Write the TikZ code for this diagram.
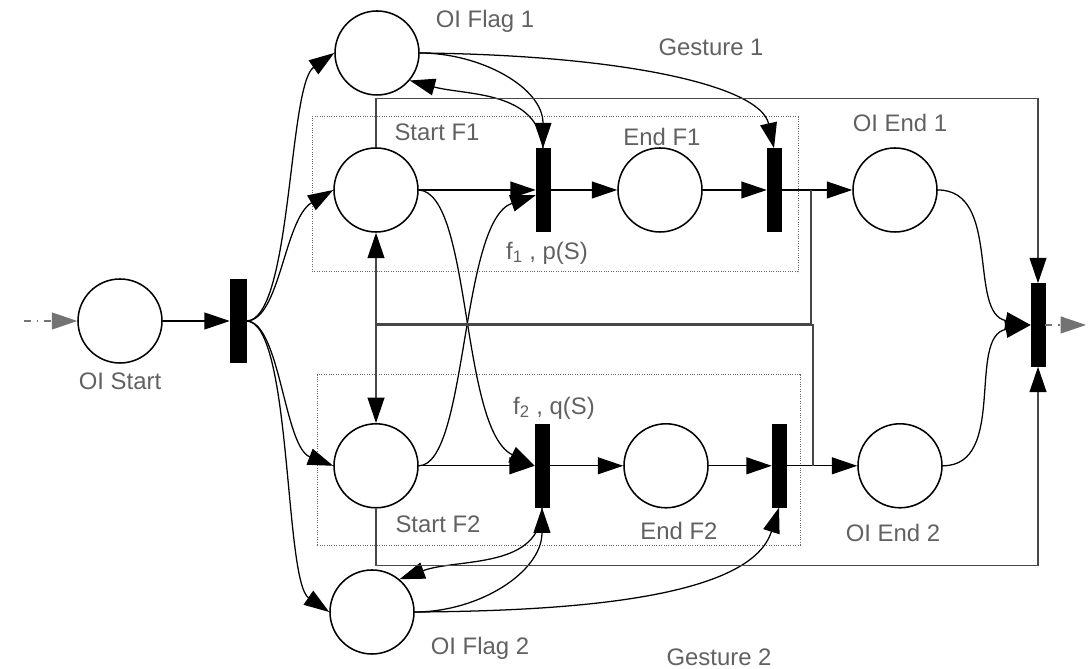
\documentclass[tikz,border=0pt]{standalone}
\usepackage{fontspec}
\setmainfont{Liberation Sans}
\usetikzlibrary{arrows.meta}

\begin{document}
\begin{tikzpicture}[
      place/.style={draw, circle, line width=1.1pt, minimum size=2.1cm, inner sep=0pt},
      trans/.style={draw, fill=black, rectangle, minimum width=0.35cm,
                    minimum height=2.075cm, inner sep=0pt},
      arr/.style={-{Triangle[length=18pt, width=12pt]}, line width=0.9pt},
      frame/.style={-{Triangle[length=18pt, width=12pt, color=black]}, line width=0.9pt, draw=black!72},
      flow/.style={arr, draw=black!55, dash pattern=on 5pt off 4pt on 1.2pt off 4pt},
      group/.style={draw=black!60, densely dotted, line width=0.7pt},
      lbl/.style={font=\fontsize{17}{20}\selectfont, text=black!62, inner sep=0pt}
    ]
    \useasboundingbox (0,0) rectangle (27.225,16.725);

    \draw[group] (7.8,9.925) rectangle (19.95,13.8);
    \draw[group] (7.925,3.1) rectangle (20.0,7.35);

    \node[place] (start) at (3.0,8.7)     {};
    \node[trans, minimum width=0.4cm] (tS) at (5.95,8.7) {};
    \node[place] (flag1) at (9.425,15.4)  {};
    \node[place] (sF1)   at (9.4,11.975)  {};
    \node[trans] (t1)    at (13.575,11.975) {};
    \node[place] (eF1)   at (16.5,11.975) {};
    \node[trans] (g1)    at (19.35,11.975) {};
    \node[place] (end1)  at (22.375,11.975) {};
    \node[trans] (fin)   at (25.95,8.6)   {};
    \node[place] (sF2)   at (9.4,5.08)    {};
    \node[trans] (t2)    at (13.55,5.08)  {};
    \node[place] (eF2)   at (16.65,5.08)  {};
    \node[trans] (g2)    at (19.475,5.08) {};
    \node[place] (end2)  at (22.5,5.08)   {};
    \node[place] (flag2) at (9.3,1.425)   {};

    \coordinate (src)  at (0.6,8.7);
    \coordinate (sink) at (27.15,8.6);
    \coordinate (j1) at (20.275,11.975);
    \coordinate (m1) at (20.275,8.63);
    \coordinate (j2) at (20.325,5.08);
    \coordinate (m2) at (20.325,8.6);

    \node[lbl] (lStart)   at (3.0,7.2)      {OI Start};
    \node[lbl] (lFlag1)   at (12.125,16.2)  {OI Flag 1};
    \node[lbl] (lGest1)   at (17.775,15.55) {Gesture 1};
    \node[lbl] (lStartF1) at (10.925,13.425) {Start F1};
    \node[lbl] (lEndF1)   at (16.55,13.3)   {End F1};
    \node[lbl] (lT1)      at (13.675,10.4)  {f\textsubscript{1} , p(S)};
    \node[lbl] (lEnd1)    at (22.5,13.65)   {OI End 1};
    \node[lbl] (lEnd2)    at (22.325,3.4)   {OI End 2};
    \node[lbl] (lT2)      at (13.85,6.525)  {f\textsubscript{2} , q(S)};
    \node[lbl] (lStartF2) at (10.95,3.625)  {Start F2};
    \node[lbl] (lEndF2)   at (16.975,3.45)  {End F2};
    \node[lbl] (lFlag2)   at (12.0,0.525)   {OI Flag 2};
    \node[lbl] (lGest2)   at (17.975,0.3)   {Gesture 2};

    \draw[flow] (src) -- (start);
    \draw[arr] (start) -- (tS);
    \draw[arr] (tS.east) .. controls (7.3,8.7) and (7.2,14.6) .. (flag1.west);
    \draw[arr] (tS.east) .. controls (7.0,8.7) and (7.1,11.25) .. (sF1.west);
    \draw[arr] (tS.east) .. controls (7.0,8.7) and (7.1,5.55) .. (sF2.west);
    \draw[arr] (tS.east) .. controls (7.3,8.7) and (7.1,2.2) .. (flag2.west);

    \draw[arr] (sF1) -- (t1);
    \draw[arr] (t1) -- (eF1);
    \draw[arr] (eF1) -- (g1);
    \draw[arr] (g1) -- (end1);
    \draw[arr] (sF2) -- (t2);
    \draw[arr] (t2) -- (eF2);
    \draw[arr] (eF2) -- (g2);
    \draw[arr] (g2) -- (end2);

    \draw[arr] (sF1.east) .. controls (11.8,11.9) and (11.5,6.0) .. (t2.west);
    \draw[arr] (sF2.east) .. controls (11.7,5.1) and (11.5,11.2) .. ([yshift=-0.13cm]t1.west);

    \draw[arr] (flag1.east) to[out=0, in=90] (t1.north);
    \draw[arr] (t1.north) to[out=95, in=-15] (flag1.-40);
    \draw[arr] (flag1.east) .. controls (15.5,15.35) and (19.0,14.6) .. (g1.north);
    \draw[arr] (flag2.east) to[out=0, in=-90] (t2.south);
    \draw[arr] (t2.south) to[out=-90, in=20] (flag2.50);
    \draw[arr] (flag2.east) .. controls (15,1.45) and (18.8,1.9) .. (g2.south);

    \draw[frame] (j1) -- (m1) -| (sF1.south);
    \draw[frame] (j2) -- (m2) -| (sF2.north);
    \draw[frame] (sF1.north) -- ++(0,1.225) -| (fin.north);
    \draw[frame] (sF2.south) -- ++(0,-1.43) -| (fin.south);

    \draw[arr] (end1.east) to[out=0, in=170] (fin.west);
    \draw[arr] (end2.east) to[out=0, in=190] (fin.west);
    \draw[flow] (fin.east) -- (sink);
  \end{tikzpicture}
\end{document}
